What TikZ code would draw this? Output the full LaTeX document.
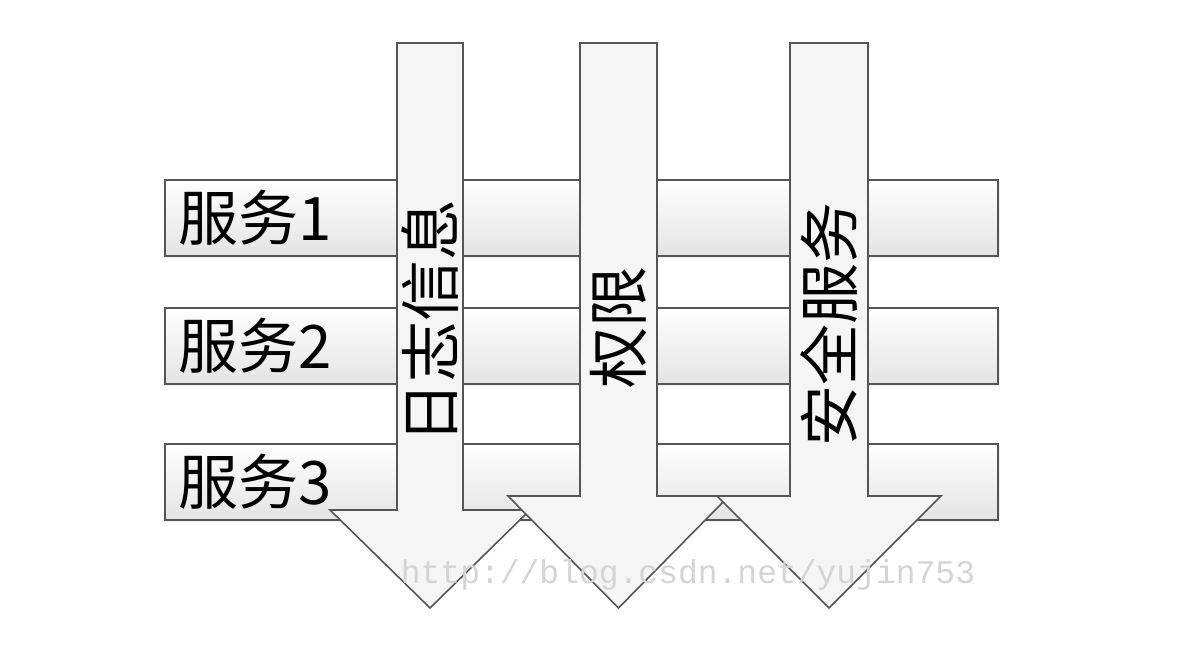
\documentclass[tikz,border=0pt]{standalone}
\usepackage{fontspec}
\newfontfamily\cjk{Noto Sans CJK SC}
\setmonofont{Liberation Mono}
\usetikzlibrary{shadows}

\tikzstyle{service-bar}=[draw={edge}, line width=1.6pt, top color=white, bottom color={barshade},
  drop shadow={shadow xshift=2.5pt, shadow yshift=-2.5pt, fill=black!12},
  minimum width=833pt, minimum height=76pt, inner xsep=14pt, inner ysep=0pt,
  text width=805pt, align=left, anchor=north west, font=\cjk\fontsize{60}{62}\selectfont]
\tikzstyle{down-arrow}=[draw={edge}, line width=1.6pt, fill={arrowfill}, line join=miter]
\tikzstyle{arrow-label}=[rotate=90, inner sep=0pt, font=\cjk\fontsize{61}{63}\selectfont]
\definecolor{edge}{HTML}{555555}
\definecolor{barshade}{HTML}{e4e4e4}
\definecolor{arrowfill}{HTML}{f5f5f5}
\definecolor{watermark}{HTML}{d4d4d4}

\begin{document}
\begin{tikzpicture}[x=1pt, y=-1pt]
      \useasboundingbox (0,0) rectangle (1186,650);
      % services
      \node (service1) at (164,179) [service-bar] {服务1};
      \node (service2) at (164,307) [service-bar] {服务2};
      \node (service3) at (164,443) [service-bar] {服务3};
      % cross-cutting arrows
      \draw[down-arrow] (397,43) -- (463,43) -- (463,510) -- (530,510) -- (430,608)
            -- (330,510) -- (397,510) -- cycle;
      \node (log) at (430,321) [arrow-label] {日志信息};
      \draw[down-arrow] (580,43) -- (657,43) -- (657,496) -- (729,496) -- (618.5,608)
            -- (508,496) -- (580,496) -- cycle;
      \node (auth) at (618.5,327) [arrow-label] {权限};
      \draw[down-arrow] (790,43) -- (868,43) -- (868,496) -- (941,496) -- (829,608)
            -- (717,496) -- (790,496) -- cycle;
      \node (security) at (829,324) [arrow-label] {安全服务};
      \node (mark) at (688,575) [text={watermark}, font=\ttfamily\fontsize{33}{36}\selectfont]
            {http://blog.csdn.net/yujin753};
    \end{tikzpicture}
\end{document}
